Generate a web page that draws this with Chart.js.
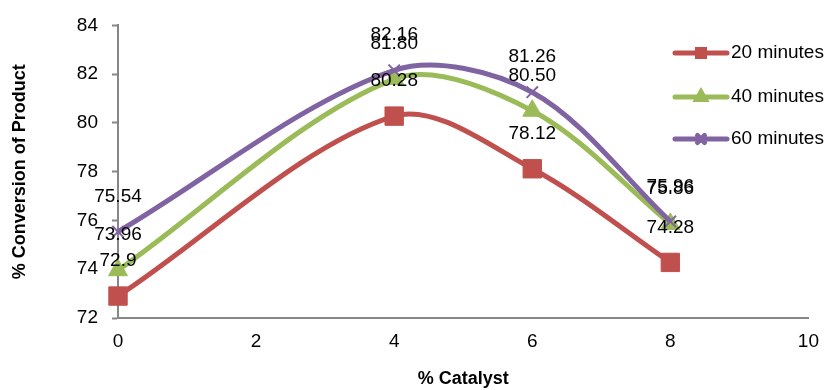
<!DOCTYPE html>
<html>
<head>
<meta charset="utf-8">
<script src="https://cdn.jsdelivr.net/npm/chart.js@4"></script>
<style>
  html, body { margin: 0; padding: 0; background: #fff; }
  #wrap { width: 831px; height: 390px; position: relative; }
</style>
</head>
<body>
<div id="wrap"><canvas id="idCanvas" width="831" height="390"></canvas></div>
<script>
// valori
const catalyst = [0, 4, 6, 8];
const conv20 = [72.9, 80.28, 78.12, 74.28];
const conv40 = [73.96, 81.80, 80.50, 75.86];
const conv60 = [75.54, 82.16, 81.26, 75.96];
const seriesNames = ['20 minutes', '40 minutes', '60 minutes'];
const xTicks = [0, 2, 4, 6, 8, 10];
const yTicks = [72, 74, 76, 78, 80, 82, 84];

const FONT = "'Liberation Sans', Arial, sans-serif";
const colori = ['#C0504D', '#9BBB59', '#8064A2'];
const stili = ['rect', 'triangle', 'crossRot'];
const decimali = [[1, 2, 2, 2], [2, 2, 2, 2], [2, 2, 2, 2]];

function punti(vals) {
    return catalyst.map((x, i) => ({ x: x, y: vals[i] }));
}

// etichette dei valori sopra i punti
const etichette = {
    id: 'etichette',
    afterDatasetsDraw(chart) {
        const ctx = chart.ctx;
        ctx.save();
        ctx.font = '19px ' + FONT;
        ctx.fillStyle = '#000';
        ctx.textAlign = 'center';
        ctx.textBaseline = 'middle';
        chart.data.datasets.forEach((ds, di) => {
            const meta = chart.getDatasetMeta(di);
            meta.data.forEach((p, i) => {
                const v = ds.data[i].y;
                ctx.fillText(v.toFixed(decimali[di][i]), p.x, p.y - 35);
            });
        });
        ctx.restore();
    }
};

// legenda disegnata a mano (si sovrappone all'area del grafico)
const legenda = {
    id: 'legenda',
    afterDraw(chart) {
        const ctx = chart.ctx;
        const ys = [53, 97, 139];
        ctx.save();
        chart.data.datasets.forEach((ds, i) => {
            const y = ys[i];
            ctx.strokeStyle = ds.borderColor;
            ctx.lineWidth = 5;
            ctx.lineCap = 'round';
            ctx.beginPath();
            ctx.moveTo(675, y);
            ctx.lineTo(727, y);
            ctx.stroke();
            Chart.helpers.drawPoint(ctx, {
                pointStyle: ds.pointStyle,
                radius: 5,
                borderWidth: 2,
                rotation: 0
            }, 701, y);
            ctx.fillStyle = ds.borderColor;
            if (ds.pointStyle !== 'crossRot') ctx.fill();
            ctx.fillStyle = '#000';
            ctx.font = '19px ' + FONT;
            ctx.textAlign = 'left';
            ctx.textBaseline = 'middle';
            ctx.fillText(ds.label, 731, y);
        });
        ctx.restore();
    }
};

const datiSerie = [conv20, conv40, conv60];

new Chart(document.getElementById('idCanvas').getContext('2d'), {
    type: 'line',
    data: {
        datasets: datiSerie.map((vals, i) => ({
            label: seriesNames[i],
            data: punti(vals),
            borderColor: colori[i],
            backgroundColor: colori[i],
            borderWidth: 5,
            tension: 0.32,
            pointStyle: stili[i],
            pointRadius: stili[i] === 'crossRot' ? 8 : (stili[i] === 'rect' ? 13 : 11),
            pointBorderWidth: stili[i] === 'crossRot' ? 2 : 1,
            pointBorderColor: colori[i],
            pointBackgroundColor: colori[i],
            order: 3 - i,
            clip: false
        }))
    },
    options: {
        responsive: false,
        animation: false,
        layout: { padding: { left: 0, right: 8, top: 22, bottom: 0 } },
        plugins: {
            legend: { display: false },
            tooltip: { enabled: false }
        },
        scales: {
            x: {
                type: 'linear',
                min: 0,
                max: 10,
                afterBuildTicks(scale) { scale.ticks = xTicks.map(v => ({ value: v })); },
                afterFit(scale) { scale.height = 72; },
                ticks: {
                    font: { family: FONT, size: 19 },
                    color: '#000',
                    padding: 12
                },
                grid: { drawOnChartArea: false, drawTicks: false },
                border: { color: '#868686', width: 2 },
                title: {
                    display: true,
                    text: '% Catalyst',
                    font: { family: FONT, size: 18, weight: 'bold' },
                    color: '#000',
                    padding: { top: 0, bottom: 0 }
                }
            },
            y: {
                min: 72,
                max: 84,
                afterBuildTicks(scale) { scale.ticks = yTicks.map(v => ({ value: v })); },
                afterFit(scale) { scale.width = 118; },
                ticks: {
                    font: { family: FONT, size: 19 },
                    color: '#000',
                    padding: 14
                },
                grid: { drawOnChartArea: false, drawTicks: true, tickLength: 6, tickColor: '#868686', tickWidth: 2 },
                border: { color: '#868686', width: 2 },
                title: {
                    display: true,
                    text: '% Conversion of Product',
                    font: { family: FONT, size: 18, weight: 'bold' },
                    color: '#000',
                    padding: { top: 9, bottom: 0 }
                }
            }
        }
    },
    plugins: [etichette, legenda]
});
</script>
</body>
</html>
